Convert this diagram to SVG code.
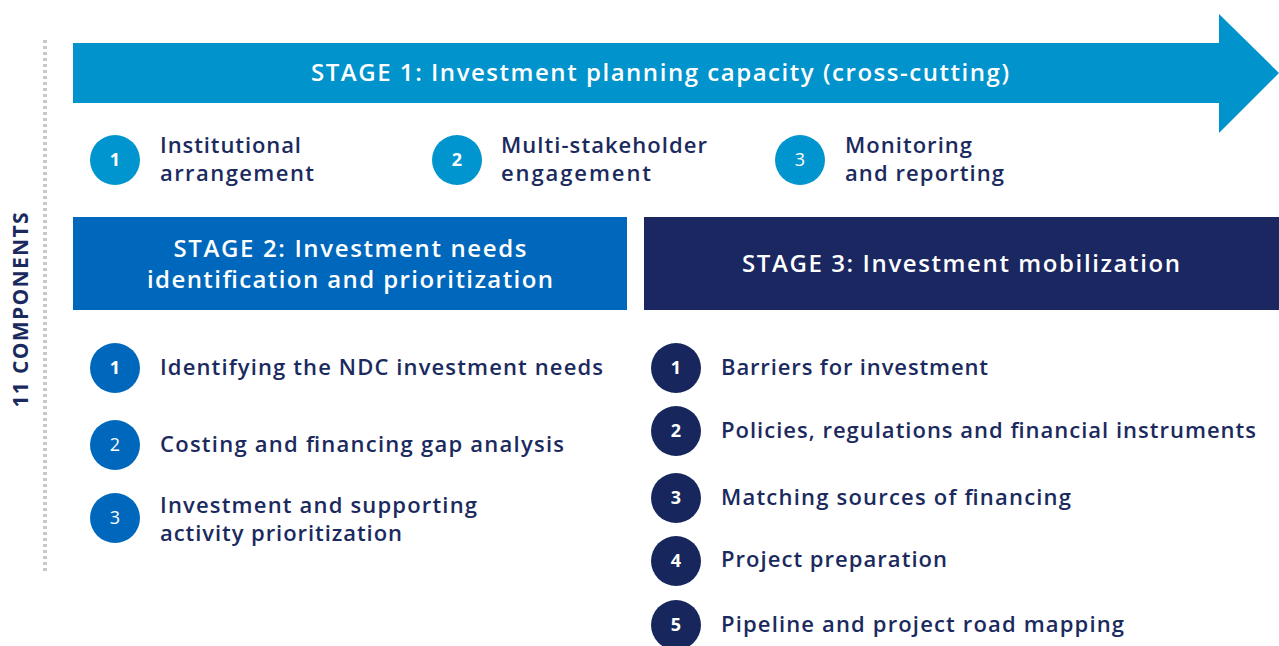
<svg xmlns="http://www.w3.org/2000/svg" width="1279" height="646" viewBox="0 0 1279 646">
<style>
.t{font-family:"Open Sans","Noto Sans",sans-serif;font-weight:600;font-size:22px;fill:#1b2a5e}
.h{font-family:"Open Sans","Noto Sans",sans-serif;font-weight:600;font-size:24px;fill:#ffffff;text-anchor:middle}
.n{font-family:"Open Sans","Noto Sans",sans-serif;font-size:18px;fill:#ffffff;text-anchor:middle}
.nb{font-weight:700}
.c1{fill:#0095ce}
.c2{fill:#0068bc}
.c3{fill:#17275e}
</style>
<rect width="1279" height="646" fill="#ffffff"/>
<g id="divider">
<line x1="45" y1="40" x2="45" y2="572" stroke="#c8c8c8" stroke-width="4" stroke-dasharray="3,3"/>
<text transform="translate(28,310) rotate(-90)" text-anchor="middle" textLength="195" lengthAdjust="spacing" style="font-family:'Open Sans','Noto Sans',sans-serif;font-weight:700;font-size:21px;fill:#1b2a5e">11 COMPONENTS</text>
</g>
<g id="stage1">
<polygon points="73,43 1219,43 1219,14 1279,73 1219,133 1219,103 73,103" fill="#0093cc"/>
<text class="h" x="660" y="81" textLength="698" lengthAdjust="spacing">STAGE 1: Investment planning capacity (cross-cutting)</text>
</g>
<g id="s1-1"><circle class="c1" cx="115" cy="160" r="25"/><text class="n nb" x="115" y="166">1</text><text class="t" x="160" y="153" textLength="141" lengthAdjust="spacing">Institutional</text><text class="t" x="160" y="181" textLength="154" lengthAdjust="spacing">arrangement</text></g>
<g id="s1-2"><circle class="c1" cx="457" cy="160" r="25"/><text class="n nb" x="457" y="166">2</text><text class="t" x="501" y="153" textLength="206" lengthAdjust="spacing">Multi-stakeholder</text><text class="t" x="501" y="181" textLength="150" lengthAdjust="spacing">engagement</text></g>
<g id="s1-3"><circle class="c1" cx="800" cy="160" r="25"/><text class="n" x="800" y="166">3</text><text class="t" x="845" y="153" textLength="127" lengthAdjust="spacing">Monitoring</text><text class="t" x="845" y="181" textLength="159" lengthAdjust="spacing">and reporting</text></g>
<g id="stage2">
<rect x="73" y="217" width="554" height="93" fill="#0068bc"/>
<text class="h" x="350" y="257" textLength="353" lengthAdjust="spacing">STAGE 2: Investment needs</text>
<text class="h" x="350" y="288" textLength="406" lengthAdjust="spacing">identification and prioritization</text>
</g>
<g id="stage3">
<rect x="644" y="217" width="635" height="93" fill="#1a2760"/>
<text class="h" x="961" y="272" textLength="438" lengthAdjust="spacing">STAGE 3: Investment mobilization</text>
</g>
<g id="s2-1"><circle class="c2" cx="115" cy="368" r="25"/><text class="n nb" x="115" y="374">1</text><text class="t" x="160" y="375" textLength="443" lengthAdjust="spacing">Identifying the NDC investment needs</text></g>
<g id="s2-2"><circle class="c2" cx="115" cy="445" r="25"/><text class="n" x="115" y="451">2</text><text class="t" x="160" y="452" textLength="404" lengthAdjust="spacing">Costing and financing gap analysis</text></g>
<g id="s2-3"><circle class="c2" cx="115" cy="518" r="25"/><text class="n" x="115" y="524">3</text><text class="t" x="160" y="513" textLength="317" lengthAdjust="spacing">Investment and supporting</text><text class="t" x="160" y="541" textLength="242" lengthAdjust="spacing">activity prioritization</text></g>
<g id="s3-1"><circle class="c3" cx="676" cy="368" r="25"/><text class="n nb" x="676" y="374">1</text><text class="t" x="721" y="375" textLength="267" lengthAdjust="spacing">Barriers for investment</text></g>
<g id="s3-2"><circle class="c3" cx="676" cy="431" r="25"/><text class="n nb" x="676" y="437">2</text><text class="t" x="721" y="438" textLength="535" lengthAdjust="spacing">Policies, regulations and financial instruments</text></g>
<g id="s3-3"><circle class="c3" cx="676" cy="498" r="25"/><text class="n nb" x="676" y="504">3</text><text class="t" x="721" y="505" textLength="350" lengthAdjust="spacing">Matching sources of financing</text></g>
<g id="s3-4"><circle class="c3" cx="676" cy="561" r="25"/><text class="n nb" x="676" y="567">4</text><text class="t" x="721" y="567" textLength="226" lengthAdjust="spacing">Project preparation</text></g>
<g id="s3-5"><circle class="c3" cx="676" cy="625" r="25"/><text class="n nb" x="676" y="631">5</text><text class="t" x="721" y="632" textLength="403" lengthAdjust="spacing">Pipeline and project road mapping</text></g>
</svg>
